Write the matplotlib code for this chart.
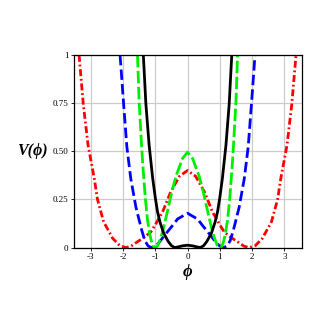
import matplotlib
matplotlib.use("Agg")
import matplotlib.pyplot as plt
import numpy as np

# values (right half, curves are symmetric in phi)
red_phi = [0, 0.25, 0.52, 0.77, 1.0, 1.14, 1.35, 1.55, 1.75, 1.91, 2.1, 2.32, 2.6, 2.79, 2.89, 3.08, 3.23, 3.36]
red_v = [0.40, 0.37, 0.29, 0.186, 0.118, 0.08, 0.052, 0.03, 0.007, 0.0, 0.01, 0.048, 0.134, 0.25, 0.36, 0.53, 0.745, 1.0]

blue_phi = [0, 0.31, 0.5, 0.72, 0.9, 1.0, 1.12, 1.22, 1.32, 1.42, 1.6, 1.76, 1.88, 1.98, 2.09]
blue_v = [0.178, 0.148, 0.107, 0.062, 0.022, 0.008, 0.0, 0.008, 0.035, 0.09, 0.21, 0.36, 0.524, 0.745, 1.0]

green_phi = [0, 0.155, 0.36, 0.5, 0.62, 0.75, 0.83, 0.92, 0.96, 1.0, 1.05, 1.1, 1.17, 1.24, 1.31, 1.39, 1.42, 1.5, 1.55]
green_v = [0.495, 0.463, 0.37, 0.28, 0.19, 0.097, 0.05, 0.012, 0.003, 0.0, 0.005, 0.022, 0.068, 0.144, 0.26, 0.44, 0.52, 0.76, 1.0]

black_phi = [0, 0.15, 0.3, 0.4, 0.5, 0.6, 0.74, 0.85, 0.93, 1.0, 1.08, 1.19, 1.29, 1.37]
black_v = [0.012, 0.009, 0.003, 0.0, 0.01, 0.032, 0.075, 0.13, 0.186, 0.26, 0.36, 0.532, 0.745, 1.0]

x_ticks = [-3, -2, -1, 0, 1, 2, 3]
y_ticks = [0, 0.25, 0.5, 0.75, 1]
y_labels = ["0", "0.25", "0.50", "0.75", "1"]


def mirror(phi, v):
    phi = np.array(phi)
    v = np.array(v)
    return np.concatenate([-phi[::-1], phi[1:]]), np.concatenate([v[::-1], v[1:]])


plt.rcParams['lines.scale_dashes'] = False
plt.rcParams['font.family'] = ['Liberation Serif', 'DejaVu Serif']

fig = plt.figure(figsize=(3.27, 3.27), dpi=100)
ax = fig.add_axes([0.226, 0.243, 0.698, 0.589])

x, y = mirror(red_phi, red_v)
ax.plot(x, y, color='red', lw=2, dashes=(5, 2, 1.3, 2))
x, y = mirror(blue_phi, blue_v)
ax.plot(x, y, color='blue', lw=2, dashes=(7.5, 3))
x, y = mirror(green_phi, green_v)
ax.plot(x, y, color='#00ee00', lw=2, dashes=(9, 2.5))
x, y = mirror(black_phi, black_v)
ax.plot(x, y, color='black', lw=2)

ax.set_xlim(-3.52, 3.55)
ax.set_ylim(0, 1)
ax.set_xticks(x_ticks)
ax.set_xticklabels([str(t) for t in x_ticks])
ax.set_yticks(y_ticks)
ax.set_yticklabels(y_labels)
ax.grid(True, color='#cccccc', lw=0.9)
ax.set_axisbelow(True)
ax.tick_params(labelsize=6.5, length=2, width=0.6, pad=2)
for s in ax.spines.values():
    s.set_linewidth(0.9)

ax.set_xlabel('\u03d5', fontsize=12, fontweight='bold', fontstyle='italic', labelpad=2)
fig.text(0.098, 0.537, 'V(\u03d5)', fontsize=11.5, fontweight='bold', fontstyle='italic',
         ha='center', va='center')

fig.savefig('out.png', dpi=100)
